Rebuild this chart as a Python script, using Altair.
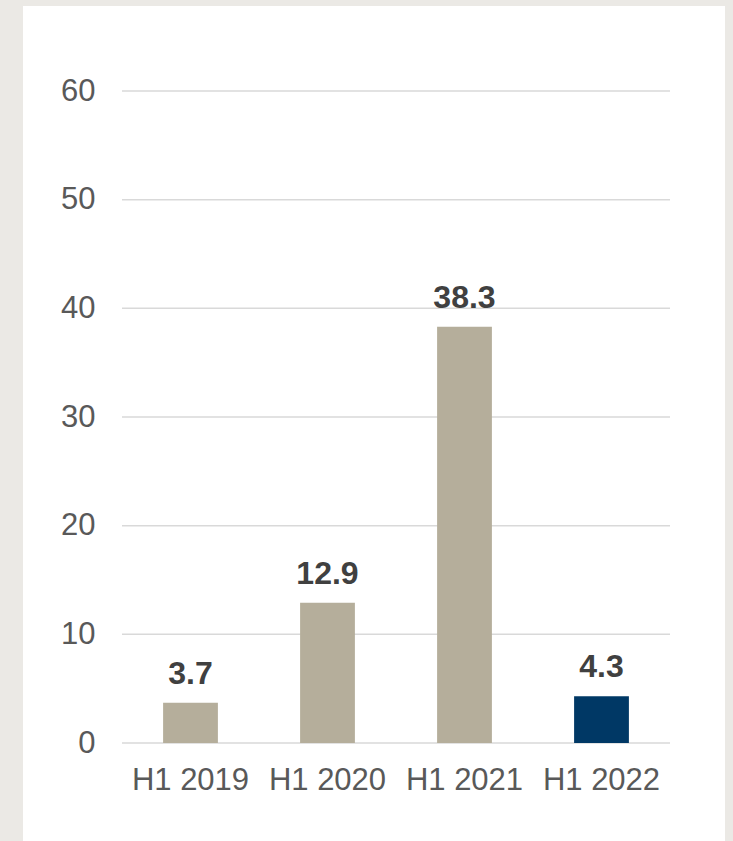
import altair as alt
import pandas as pd

categories = ["H1 2019", "H1 2020", "H1 2021", "H1 2022"]
values = [3.7, 12.9, 38.3, 4.3]
labels = ["3.7", "12.9", "38.3", "4.3"]
highlight = ["past", "past", "past", "current"]
y_ticks = [0, 10, 20, 30, 40, 50, 60]

df = pd.DataFrame({"cat": categories, "val": values, "lab": labels, "grp": highlight})
grid_df = pd.DataFrame({"t": y_ticks})

W, H = 548, 652
PAD_L, PAD_T, PAD_R, PAD_B = 122, 91, 63, 98

panel = alt.Chart(pd.DataFrame({"p": [0]})).mark_rect(color="#ffffff").encode(
    x=alt.value(23 - PAD_L),
    x2=alt.value(725 - PAD_L),
    y=alt.value(6 - PAD_T),
    y2=alt.value(845 - PAD_T),
)

yscale = alt.Scale(domain=[0, 60], nice=False)

grid = alt.Chart(grid_df).mark_rule(color="#d9d9d9", strokeWidth=1.5).encode(
    y=alt.Y("t:Q", scale=yscale),
    x=alt.value(0),
    x2=alt.value(W),
)

xs = alt.X(
    "cat:N",
    sort=categories,
    scale=alt.Scale(paddingInner=0.6, paddingOuter=0.3),
    axis=alt.Axis(
        title=None,
        labelAngle=0,
        ticks=False,
        domain=False,
        grid=False,
        zindex=1,
        labelFont="Liberation Sans",
        labelFontSize=31,
        labelColor="#595959",
        labelPadding=22,
    ),
)
ys = alt.Y(
    "val:Q",
    scale=yscale,
    axis=alt.Axis(
        title=None,
        values=y_ticks,
        ticks=False,
        domain=False,
        grid=False,
        zindex=1,
        labelFont="Liberation Sans",
        labelFontSize=31,
        labelColor="#595959",
        labelPadding=27,
    ),
)

bars = alt.Chart(df).mark_bar().encode(
    x=xs,
    y=ys,
    color=alt.Color(
        "grp:N",
        scale=alt.Scale(domain=["past", "current"], range=["#b5ae9b", "#003865"]),
        legend=None,
    ),
)

text = alt.Chart(df).mark_text(
    font="Liberation Sans",
    fontSize=32,
    fontWeight="bold",
    color="#404040",
    baseline="alphabetic",
    dy=-19,
).encode(x=alt.X("cat:N", sort=categories), y="val:Q", text="lab:N")

chart = (
    alt.layer(panel, grid, bars, text)
    .properties(
        width=W,
        height=H,
        autosize=alt.AutoSizeParams(type="none"),
        padding={"left": PAD_L, "top": PAD_T, "right": PAD_R, "bottom": PAD_B},
        background="#ebe9e5",
    )
    .configure_view(stroke=None)
)

chart.save("out.html", embed_options={"renderer": "svg", "actions": False})
